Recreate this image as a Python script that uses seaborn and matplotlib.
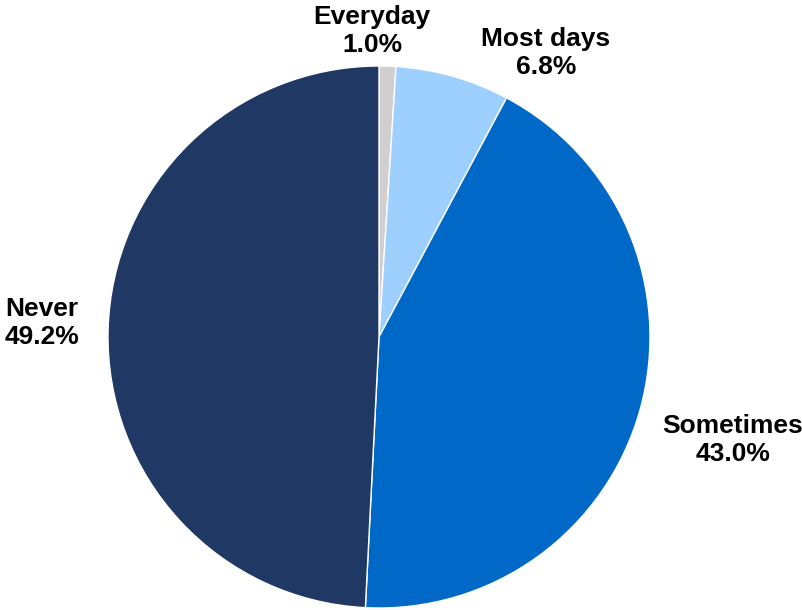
import matplotlib
matplotlib.use("Agg")
import matplotlib.pyplot as plt
import seaborn as sns

categories = ["Everyday", "Most days", "Sometimes", "Never"]
values = [1.0, 6.8, 43.0, 49.2]
colors = ["#D0CECE", "#9DCFFF", "#0069C8", "#203864"]
# label anchor positions (pixel coords in an 803x610 canvas, origin bottom-left)
label_x = [372, 546, 733, 42]
label_y = [610 - 31, 610 - 53, 610 - 440, 610 - 323]

sns.set_theme(style="white")
plt.rcParams['font.family'] = ['Liberation Sans', 'DejaVu Sans']

fig = plt.figure(figsize=(8.03, 6.10), dpi=100)
ax = fig.add_axes([0, 0, 1, 1])
ax.pie(values, colors=sns.color_palette(colors), startangle=90, counterclock=False,
       center=(379, 610 - 337), radius=271,
       wedgeprops=dict(edgecolor="white", linewidth=1.0))
for c, v, x, y in zip(categories, values, label_x, label_y):
    ax.text(x, y, f"{c}\n{v:.1f}%", ha="center", va="center", fontsize=19,
            fontweight="bold", color="black", linespacing=1.2)
ax.set_xlim(0, 803)
ax.set_ylim(0, 610)
ax.set_aspect("equal")
ax.axis("off")
fig.savefig("out.png", dpi=100, facecolor="white")
